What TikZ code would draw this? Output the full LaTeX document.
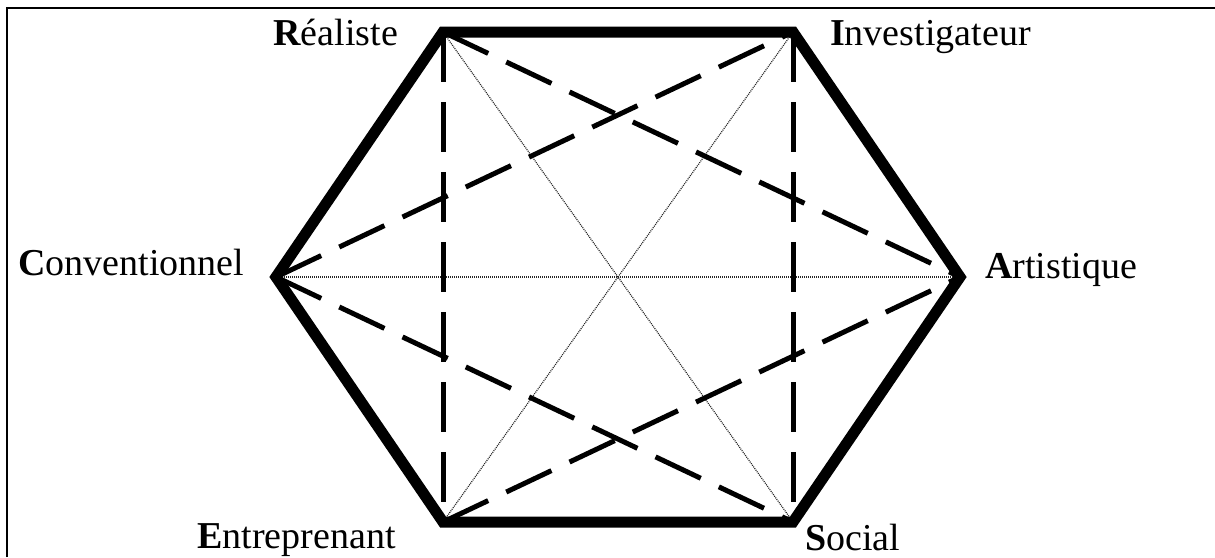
\documentclass[tikz,border=0pt]{standalone}
\usepackage{fontspec}
\setmainfont{Liberation Serif}
\begin{document}
\begin{tikzpicture}[x=1pt,y=-1pt,
  hexline/.style={line width=11pt,line join=miter,miter limit=10},
  dashline/.style={line width=5pt,dash pattern=on 50pt off 20pt},
  dotline/.style={line width=1.2pt,dash pattern=on 1pt off 1pt,black!85},
  lab/.style={font=\fontsize{38}{41}\selectfont,inner sep=0pt,anchor=base west},
  frame/.style={line width=2pt}]
\useasboundingbox (0,0) rectangle (1215,557);
\draw[frame] (7,557) -- (7,8) -- (1215,8);
\coordinate (R) at (443,32);
\coordinate (I) at (793,32);
\coordinate (A) at (960,277);
\coordinate (S) at (793,522);
\coordinate (E) at (443,522);
\coordinate (C) at (276,277);
% dotted
\draw[dotline] (R) -- (S);
\draw[dotline] (I) -- (E);
\draw[dotline] (C) -- (A);
% dashed
\draw[dashline] (R) -- (E);
\draw[dashline] (I) -- (S);
\draw[dashline] (R) -- (A);
\draw[dashline] (C) -- (I);
\draw[dashline] (C) -- (S);
\draw[dashline] (E) -- (A);
% hexagon
\draw[hexline] (R) -- (I) -- (A) -- (S) -- (E) -- (C) -- cycle;
% labels
\node[lab] (lR) at (273,45) {\textbf{R}éaliste};
\node[lab] (lI) at (830,45) {\textbf{I}nvestigateur};
\node[lab] (lC) at (18,275) {\textbf{C}onventionnel};
\node[lab] (lA) at (985,278) {\textbf{A}rtistique};
\node[lab] (lE) at (197,548) {\textbf{E}ntreprenant};
\node[lab] (lS) at (805,550) {\textbf{S}ocial};
\end{tikzpicture}
\end{document}
